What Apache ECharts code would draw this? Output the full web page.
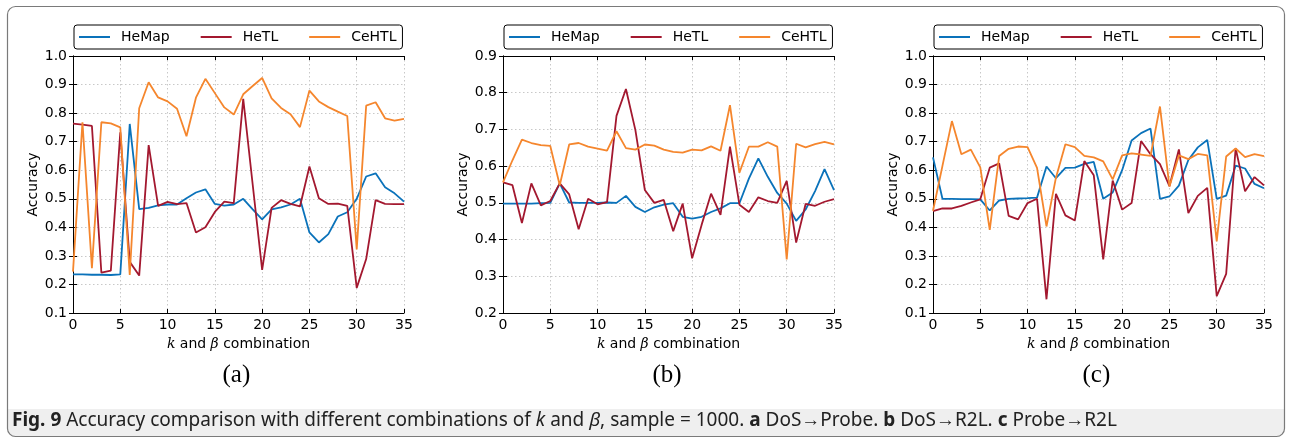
<!DOCTYPE html>
<html>
<head>
<meta charset="utf-8">
<script src="https://cdn.jsdelivr.net/npm/echarts@6/dist/echarts.min.js"></script>
<style>
html,body{margin:0;padding:0;background:#fff;}
#chart{width:1292px;height:446px;}
</style>
</head>
<body>
<div id="chart"></div>
<script>
const combos = [0,1,2,3,4,5,6,7,8,9,10,11,12,13,14,15,16,17,18,19,20,21,22,23,24,25,26,27,28,29,30,31,32,33,34,35];
const seriesNames = ['HeMap','HeTL','CeHTL'];
const panelLabels = ['(a)','(b)','(c)'];
const xTicksMin = 0, xTicksMax = 35;

const aHeMap = [0.235,0.235,0.234,0.234,0.233,0.235,0.762,0.464,0.468,0.477,0.48,0.48,0.502,0.522,0.533,0.482,0.476,0.48,0.50,0.463,0.428,0.463,0.47,0.48,0.50,0.382,0.347,0.376,0.438,0.453,0.50,0.578,0.589,0.54,0.519,0.49];
const aHeTL = [0.763,0.76,0.755,0.241,0.248,0.733,0.279,0.231,0.688,0.475,0.489,0.481,0.485,0.382,0.40,0.454,0.49,0.485,0.85,0.55,0.251,0.468,0.495,0.482,0.473,0.613,0.502,0.482,0.483,0.475,0.188,0.289,0.495,0.482,0.481,0.481];
const aCeHTL = [0.245,0.768,0.257,0.768,0.764,0.75,0.233,0.817,0.908,0.855,0.841,0.815,0.719,0.854,0.92,0.87,0.82,0.795,0.866,0.895,0.923,0.852,0.818,0.796,0.751,0.879,0.841,0.821,0.805,0.79,0.323,0.826,0.838,0.782,0.774,0.78];

const bHeMap = [0.498,0.498,0.498,0.498,0.499,0.50,0.553,0.501,0.50,0.50,0.50,0.501,0.50,0.519,0.489,0.475,0.488,0.495,0.499,0.462,0.457,0.462,0.475,0.485,0.499,0.499,0.566,0.621,0.571,0.527,0.498,0.451,0.482,0.532,0.592,0.535];
const bHeTL = [0.556,0.548,0.445,0.553,0.493,0.505,0.553,0.523,0.428,0.511,0.496,0.502,0.737,0.81,0.698,0.535,0.50,0.508,0.423,0.498,0.349,0.44,0.525,0.467,0.653,0.495,0.475,0.515,0.505,0.50,0.56,0.392,0.497,0.492,0.503,0.51];
const bCeHTL = [0.556,0.616,0.672,0.663,0.657,0.655,0.548,0.659,0.663,0.653,0.648,0.642,0.695,0.649,0.645,0.659,0.656,0.645,0.639,0.637,0.645,0.643,0.654,0.642,0.766,0.582,0.653,0.653,0.665,0.653,0.346,0.661,0.651,0.66,0.666,0.659];

const cHeMap = [0.645,0.50,0.50,0.499,0.499,0.498,0.459,0.494,0.50,0.501,0.502,0.504,0.613,0.572,0.608,0.609,0.622,0.629,0.50,0.522,0.60,0.704,0.73,0.746,0.50,0.508,0.546,0.636,0.68,0.706,0.50,0.511,0.616,0.606,0.552,0.537];
const cHeTL = [0.457,0.466,0.466,0.475,0.487,0.498,0.609,0.624,0.44,0.428,0.485,0.50,0.148,0.517,0.442,0.424,0.632,0.582,0.288,0.564,0.462,0.485,0.702,0.656,0.621,0.544,0.673,0.45,0.51,0.538,0.159,0.237,0.677,0.526,0.576,0.547];
const cCeHTL = [0.458,0.615,0.772,0.656,0.672,0.61,0.391,0.65,0.675,0.683,0.681,0.608,0.403,0.574,0.691,0.681,0.65,0.645,0.631,0.568,0.652,0.659,0.655,0.65,0.823,0.543,0.652,0.639,0.657,0.652,0.351,0.648,0.676,0.646,0.656,0.649];

const yRanges = [[0.1,1.0],[0.2,0.9],[0.1,1.0]];
const panels = [
  [aHeMap, aHeTL, aCeHTL],
  [bHeMap, bHeTL, bCeHTL],
  [cHeMap, cHeTL, cCeHTL]
];
const colors = ['#0a72ba','#a3182f','#f5862d'];

const gridLefts = [73, 503, 933];
const plotW = 331, plotTop = 56, plotH = 257;
const tickFont = {fontFamily:'DejaVu Sans', fontSize:14, color:'#000'};

const option = {
  backgroundColor:'#fff',
  animation:false,
  grid:[], xAxis:[], yAxis:[], series:[], legend:[], graphic:[]
};

gridLefts.forEach((gl, p) => {
  option.grid.push({left:gl, top:plotTop, width:plotW, height:plotH, containLabel:false});
  const axLine = {show:true, lineStyle:{color:'#000', width:1}};
  const tick = {show:true, inside:true, length:4, lineStyle:{color:'#000', width:1}};
  const grid = {show:true, lineStyle:{color:'#c8c8c8', type:[1.5,2.5], width:1}};
  option.xAxis.push({
    type:'value', gridIndex:p, min:xTicksMin, max:xTicksMax, interval:5,
    position:'bottom',
    axisLine:axLine, axisTick:tick, splitLine:grid,
    axisLabel:Object.assign({margin:5}, tickFont),
    name:'{i|k} and {i|β} combination', nameLocation:'middle', nameGap:20,
    nameTextStyle:{fontFamily:'DejaVu Sans', fontSize:14, color:'#000',
      rich:{i:{fontFamily:'DejaVu Serif', fontStyle:'italic', fontSize:14, color:'#000'}}}
  });
  option.xAxis.push({
    type:'value', gridIndex:p, min:xTicksMin, max:xTicksMax, interval:5,
    position:'top',
    axisLine:axLine, axisTick:tick, splitLine:{show:false}, axisLabel:{show:false}
  });
  option.yAxis.push({
    type:'value', gridIndex:p, min:yRanges[p][0], max:yRanges[p][1], interval:0.1,
    position:'left',
    axisLine:axLine, axisTick:tick, splitLine:grid,
    axisLabel:Object.assign({margin:6, formatter:v=>v.toFixed(1)}, tickFont),
    name:'Accuracy', nameLocation:'middle', nameGap:33, nameRotate:90,
    nameTextStyle:{fontFamily:'DejaVu Sans', fontSize:14, color:'#000'}
  });
  option.yAxis.push({
    type:'value', gridIndex:p, min:yRanges[p][0], max:yRanges[p][1], interval:0.1,
    position:'right',
    axisLine:axLine, axisTick:tick, splitLine:{show:false}, axisLabel:{show:false}
  });
  panels[p].forEach((vals, s) => {
    option.series.push({
      name:seriesNames[s], type:'line',
      xAxisIndex:p*2, yAxisIndex:p*2,
      data:combos.map((c,i)=>[c, vals[i]]),
      symbol:'none', lineStyle:{color:colors[s], width:1.8}, itemStyle:{color:colors[s]},
      z:2+s
    });
  });
  option.legend.push({
    data:seriesNames, left:gl+1, top:25, orient:'horizontal',
    icon:'rect', itemWidth:31, itemHeight:2, itemGap:31,
    padding:[5,6,5,5],
    borderColor:'#000', borderWidth:1, borderRadius:3,
    textStyle:{fontFamily:'DejaVu Sans', fontSize:14, color:'#000', padding:[0,0,0,6]},
    selectedMode:false
  });
  option.graphic.push({
    type:'text', left:gl + plotW/2 - 16, top:363,
    style:{text:panelLabels[p], font:'25px "Liberation Serif"', fill:'#000'}
  });
});

option.graphic.push(
  {type:'rect', shape:{x:8, y:409, width:1276, height:28, r:[0,0,8,8]}, style:{fill:'#efefef'}, z:-10},
  {type:'rect', shape:{x:7.5, y:6.5, width:1277, height:430, r:8}, style:{fill:'none', stroke:'#7a7a7a', lineWidth:1.2}, z:-5},
  {type:'text', left:12, top:411,
    style:{
      text:'{b|Fig. 9} Accuracy comparison with different combinations of {i|k} and {i|β}, sample = 1000. {b|a} DoS→Probe. {b|b} DoS→R2L. {b|c} Probe→R2L',
      font:'19px "Noto Sans"', fill:'#222',
      rich:{
        b:{fontFamily:'Noto Sans', fontWeight:'bold', fontSize:19, fill:'#222'},
        i:{fontFamily:'Noto Sans', fontStyle:'italic', fontSize:19, fill:'#222'}
      }
    }
  }
);

const chart = echarts.init(document.getElementById('chart'), null, {renderer:'canvas'});
chart.setOption(option);
</script>
</body>
</html>
